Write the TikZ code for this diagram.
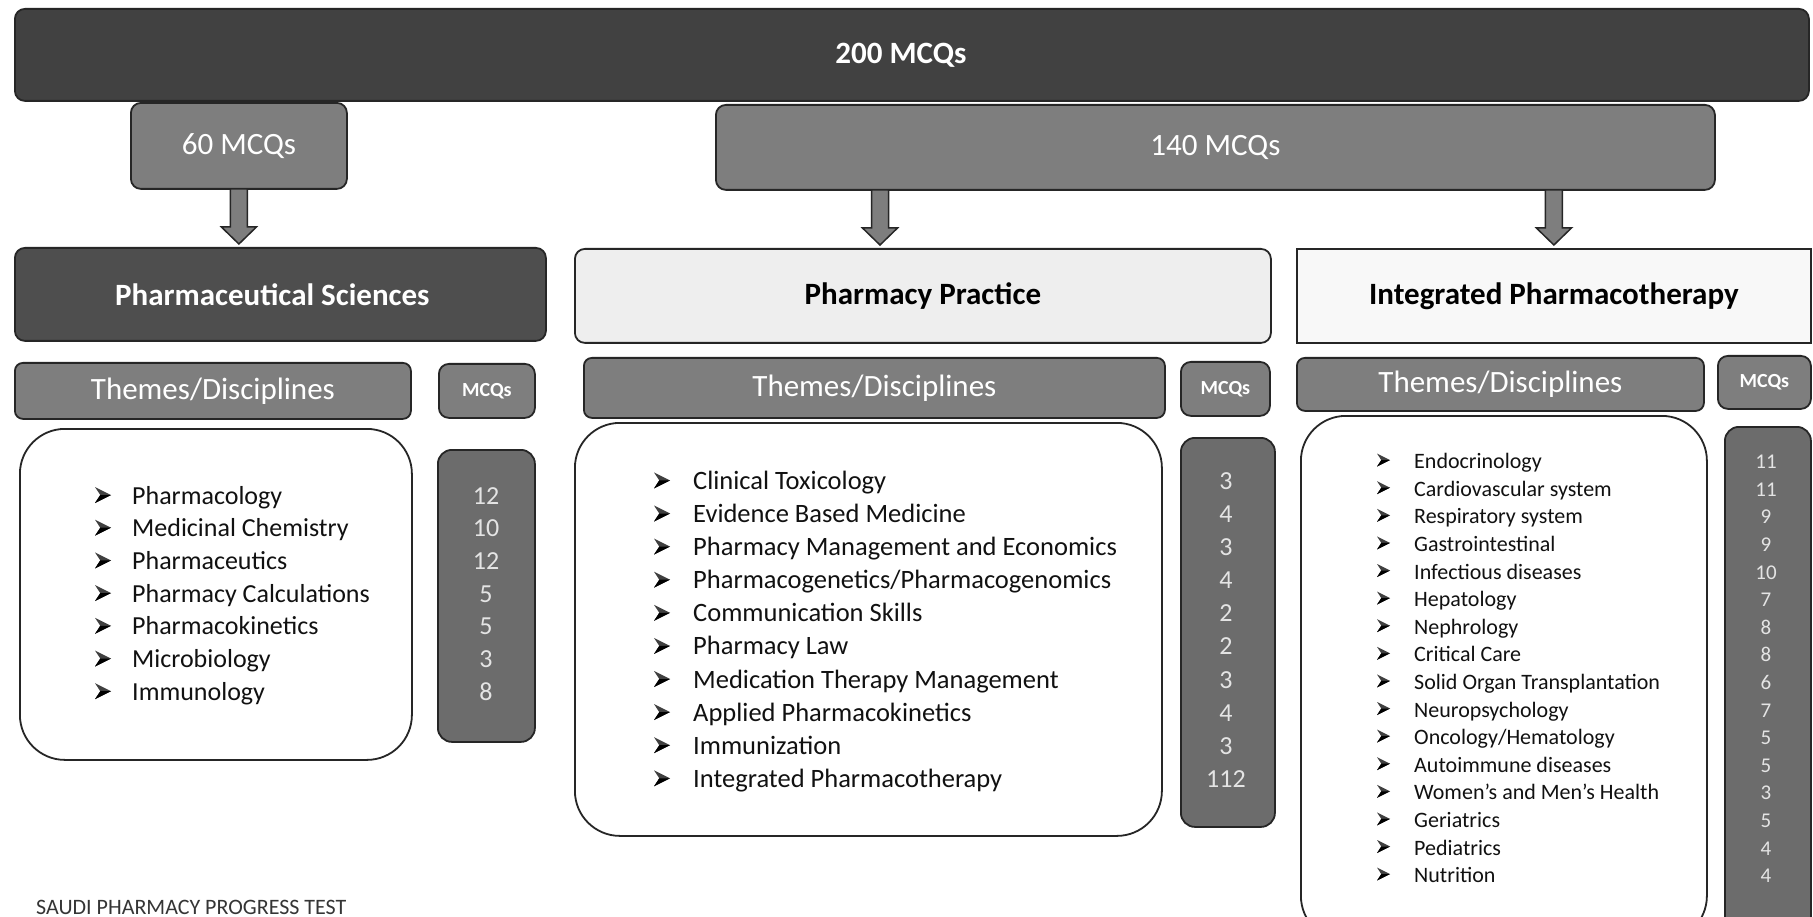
\documentclass[tikz,border=0pt]{standalone}
\usepackage{fontspec}
\setmainfont{Carlito}
\usetikzlibrary{calc}
\definecolor{bardark}{HTML}{414141}
\definecolor{boxmid}{HTML}{7E7E7E}
\definecolor{psdark}{HTML}{4E4E4E}
\definecolor{coldark}{HTML}{6C6C6C}
\definecolor{numlight}{HTML}{E4E4E4}
\definecolor{ppfill}{HTML}{EEEEEE}
\definecolor{ipfill}{HTML}{F8F8F8}
\definecolor{edgecol}{HTML}{262626}
\definecolor{textdark}{HTML}{111111}
\newcommand\fsz[1]{\fontsize{#1}{#1}\selectfont}
% arrowhead bullet: #1 = left x, #2 = baseline y, #3 = size
\newcommand\arrowbullet[3]{%
  \fill[bulletfill] ({#1},{#2}) -- ({#1+#3},{#2-0.5*#3}) -- ({#1},{#2-#3}) -- ({#1+0.33*#3},{#2-0.5*#3}) -- cycle;
  \fill[bulletlow] ({#1},{#2}) -- ({#1+#3},{#2-0.5*#3}) -- ({#1+0.33*#3},{#2-0.5*#3}) -- cycle;}
\newcommand\blockarrow[2]{%
  \draw[arrowshape] let \p1=#1, \p2=#2 in
  (\x1-8.5pt,\y1) -- (\x1-8.5pt,\y2+17pt) -- (\x1-17.5pt,\y2+17pt) -- (\x1,\y2)
  -- (\x1+17.5pt,\y2+17pt) -- (\x1+8.5pt,\y2+17pt) -- (\x1+8.5pt,\y1) -- cycle;}
\begin{document}
\begin{tikzpicture}[x=1pt,y=-1pt,
  frame/.style={draw=edgecol, line width=1.8pt, inner sep=0pt, anchor=north west, rounded corners=#1},
  frame/.default=10pt,
  arrowshape/.style={draw=edgecol, line width=1.5pt, fill=boxmid, line join=miter},
  bulletfill/.style={fill=black!75},
  bulletlow/.style={fill=black},
  head/.style={font=\fsz{31}\bfseries},
  theme/.style={frame=8pt, fill=boxmid, text=white, font=\fsz{31}},
  mcq/.style={frame=10pt, fill=boxmid, text=white, font=\fsz{20}\bfseries},
  listbox/.style={frame=45pt, fill=white},
  numcol/.style={frame=14pt, fill=coldark},
  item/.style={anchor=base west, inner sep=0pt, text=textdark},
  num/.style={anchor=base, inner sep=0pt, text=numlight}]
\useasboundingbox (0,0) rectangle (1813,917);
\clip (0,0) rectangle (1813,917);
\fill[white] (0,0) rectangle (1813,917);

% top level
\node[frame, fill=bardark, text=white, head, minimum width=1794pt, minimum height=92pt] (all) at (14,8) {\hspace*{-22pt}200 MCQs};
\node[frame, fill=boxmid, text=white, font=\fsz{31}, minimum width=216pt, minimum height=86pt] (b60) at (130,102) {60 MCQs};
\node[frame, fill=boxmid, text=white, font=\fsz{31}, minimum width=999pt, minimum height=85pt] (b140) at (715,104) {140 MCQs};

% section headers
\node[frame, fill=psdark, text=white, head, minimum width=531pt, minimum height=93pt] (ps) at (14,247) {\hspace*{-16pt}Pharmaceutical Sciences};
\node[frame, fill=ppfill, text=black, head, minimum width=696pt, minimum height=94pt] (pp) at (574,248) {Pharmacy Practice};
\node[frame=0pt, fill=ipfill, text=black, head, minimum width=514pt, minimum height=94pt] (ip) at (1296,248) {Integrated Pharmacotherapy};

% arrows
\coordinate (a1s) at ($(b60.south)+(0,-1)$);
\coordinate (a1e) at ($(b60.south |- ps.north)+(0,-3)$);
\path (b140.south west) ++(165,-1) coordinate (a2s);
\coordinate (a2e) at ($(a2s |- pp.north)+(0,-3)$);
\coordinate (a3s) at ($(b140.south -| ip.north)+(0,-1)$);
\coordinate (a3e) at ($(ip.north)+(0,-3)$);
\blockarrow{(a1s)}{(a1e)}
\blockarrow{(a2s)}{(a2e)}
\blockarrow{(a3s)}{(a3e)}

% theme / MCQs headers
\node[theme, minimum width=396pt, minimum height=56pt] (th1) at (14,362) {Themes/Disciplines};
\node[mcq, minimum width=96pt, minimum height=54pt] (mq1) at (438,363) {MCQs};
\node[theme, minimum width=581pt, minimum height=60pt] (th2) at (583,357) {Themes/Disciplines};
\node[mcq, minimum width=89pt, minimum height=54pt] (mq2) at (1180,361) {MCQs};
\node[theme, minimum width=407pt, minimum height=53pt] (th3) at (1296,357) {Themes/Disciplines};
\node[mcq, minimum width=93pt, minimum height=53pt] (mq3) at (1717,355) {MCQs};

% list boxes and number columns
\node[listbox, minimum width=392pt, minimum height=331pt] (lb1) at (19,428) {};
\node[numcol, minimum width=97pt, minimum height=292pt] (nc1) at (437,449) {};
\node[listbox, minimum width=587pt, minimum height=413pt] (lb2) at (574,422) {};
\node[numcol, minimum width=94pt, minimum height=389pt] (nc2) at (1180,437) {};
\node[listbox=42pt, minimum width=406pt, minimum height=525pt] (lb3) at (1300,415) {};
\node[numcol, minimum width=86pt, minimum height=515pt] (nc3) at (1724,426) {};

% list 1
\foreach \t/\n [count=\i] in {Pharmacology/12, Medicinal Chemistry/10, Pharmaceutics/12,
  Pharmacy Calculations/5, Pharmacokinetics/5, Microbiology/3, Immunology/8} {
  \pgfmathsetmacro\yb{504+32.7*(\i-1)}
  \arrowbullet{95}{\yb-1}{16}
  \node[item, font=\fsz{26}] (psi\i) at (132,\yb) {\t};
  \node[num, font=\fsz{26}] (psn\i) at (486,\yb) {\n};
}

% list 2
\foreach \t/\n [count=\i] in {Clinical Toxicology/3, Evidence Based Medicine/4,
  Pharmacy Management and Economics/3, Pharmacogenetics\slash Pharmacogenomics/4,
  Communication Skills/2, Pharmacy Law/2, Medication Therapy Management/3,
  Applied Pharmacokinetics/4, Immunization/3, Integrated Pharmacotherapy/112} {
  \pgfmathsetmacro\yb{489.4+33.1*(\i-1)}
  \arrowbullet{654}{\yb-1}{16}
  \node[item, font=\fsz{26.5}] (ppi\i) at (693,\yb) {\t};
  \node[num, font=\fsz{26}] (ppn\i) at (1226,\yb) {\n};
}

% list 3
\foreach \t/\n [count=\i] in {Endocrinology/11, Cardiovascular system/11, Respiratory system/9,
  Gastrointestinal/9, Infectious diseases/10, Hepatology/7, Nephrology/8, Critical Care/8,
  Solid Organ Transplantation/6, Neuropsychology/7, Oncology\slash Hematology/5,
  Autoimmune diseases/5, Women’s and Men’s Health/3, Geriatrics/5, Pediatrics/4, Nutrition/4} {
  \pgfmathsetmacro\yb{468.6+27.6*(\i-1)}
  \arrowbullet{1377}{\yb-2}{13}
  \node[item, font=\fsz{22}] (ipi\i) at (1414,\yb) {\t};
  \node[num, font=\fsz{21}] (ipn\i) at (1766,\yb) {\n};
}

% footer
\node[anchor=base west, inner sep=0pt, font=\fsz{22}, text=textdark!85] (footer) at (36,914) {SAUDI PHARMACY PROGRESS TEST};
\end{tikzpicture}
\end{document}
